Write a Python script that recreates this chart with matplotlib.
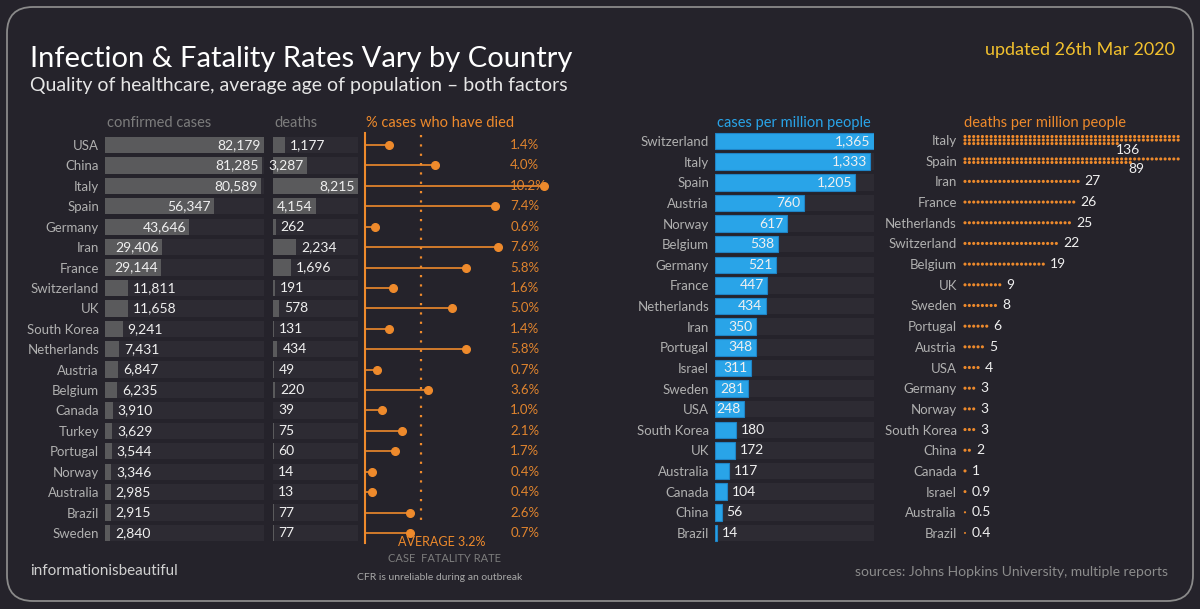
import numpy as np
import matplotlib
matplotlib.use("Agg")
import matplotlib.pyplot as plt
from matplotlib.patches import FancyBboxPatch
from matplotlib import font_manager

# ---- data ----
countries = ["USA", "China", "Italy", "Spain", "Germany", "Iran", "France", "Switzerland", "UK",
             "South Korea", "Netherlands", "Austria", "Belgium", "Canada", "Turkey", "Portugal",
             "Norway", "Australia", "Brazil", "Sweden"]
cases = [82179, 81285, 80589, 56347, 43646, 29406, 29144, 11811, 11658, 9241, 7431, 6847, 6235,
         3910, 3629, 3544, 3346, 2985, 2915, 2840]
deaths = [1177, 3287, 8215, 4154, 262, 2234, 1696, 191, 578, 131, 434, 49, 220, 39, 75, 60, 14, 13, 77, 77]
cfr = [1.4, 4.0, 10.2, 7.4, 0.6, 7.6, 5.8, 1.6, 5.0, 1.4, 5.8, 0.7, 3.6, 1.0, 2.1, 1.7, 0.4, 0.4, 2.6, 2.6]
cfr_labels = ["1.4%", "4.0%", "10.2%", "7.4%", "0.6%", "7.6%", "5.8%", "1.6%", "5.0%", "1.4%", "5.8%",
              "0.7%", "3.6%", "1.0%", "2.1%", "1.7%", "0.4%", "0.4%", "2.6%", "0.7%"]
cfr_avg = 3.2

cpm_countries = ["Switzerland", "Italy", "Spain", "Austria", "Norway", "Belgium", "Germany", "France",
                 "Netherlands", "Iran", "Portugal", "Israel", "Sweden", "USA", "South Korea", "UK",
                 "Australia", "Canada", "China", "Brazil"]
cpm = [1365, 1333, 1205, 760, 617, 538, 521, 447, 434, 350, 348, 311, 281, 248, 180, 172, 117, 104, 56, 14]

dpm_countries = ["Italy", "Spain", "Iran", "France", "Netherlands", "Switzerland", "Belgium", "UK",
                 "Sweden", "Portugal", "Austria", "USA", "Germany", "Norway", "South Korea", "China",
                 "Canada", "Israel", "Australia", "Brazil"]
dpm = [136, 89, 27, 26, 25, 22, 19, 9, 8, 6, 5, 4, 3, 3, 3, 2, 1, 0.9, 0.5, 0.4]

# ---- style ----
W, H = 1200, 609
bg = "#25232b"
track = "#2d2b33"
grey_bar = "#5a5a5c"
blue = "#29a4e8"
orange = "#ee8a2c"
label_col = "#b0b0b0"
head_col = "#7c7c7c"
value_col = "#f0f0f0"

names = {f.name for f in font_manager.fontManager.ttflist}
main_font = "Lato" if "Lato" in names else "DejaVu Sans"
num_font = "Liberation Sans Narrow" if "Liberation Sans Narrow" in names else main_font
plt.rcParams["font.family"] = [main_font, "DejaVu Sans"]

fig = plt.figure(figsize=(12, 6.09), dpi=100, facecolor=bg)

# background axes in pixel coordinates (y down)
bgax = fig.add_axes([0, 0, 1, 1])
bgax.set_xlim(0, W)
bgax.set_ylim(H, 0)
bgax.axis("off")
bgax.add_patch(FancyBboxPatch((7, 7), 1186, 594, boxstyle="round,pad=0,rounding_size=26",
                              fc=bg, ec="#8a8a8a", lw=1.3))


def px_axes(left, top, right, bottom):
    ax = fig.add_axes([left / W, 1 - bottom / H, (right - left) / W, (bottom - top) / H])
    ax.set_facecolor("none")
    for s in ax.spines.values():
        s.set_visible(False)
    ax.set_xticks([])
    ax.set_yticks([])
    return ax


def bar_panel(box, labels, values, color, inside_min, edge="none"):
    ax = px_axes(*box)
    n = len(values)
    y = np.arange(n)
    vmax = max(values)
    ax.barh(y, [vmax] * n, height=0.8, color=track)
    ax.barh(y, values, height=0.8, color=color, edgecolor=edge, linewidth=0.8)
    ax.set_xlim(0, vmax)
    ax.set_ylim(n - 0.5, -0.5)
    if labels is not None:
        ax.set_yticks(y, labels)
        ax.tick_params(axis="y", length=0, pad=4.3, labelcolor=label_col, labelsize=9.5)
    for yi, v in zip(y, values):
        if v >= inside_min:
            ax.annotate(f"{v:,}", (v, yi), xytext=(-2.5, 0), textcoords="offset points",
                        ha="right", va="center", color=value_col, fontsize=10, family=num_font)
        else:
            ax.annotate(f"{v:,}", (v, yi), xytext=(3.5, 0), textcoords="offset points",
                        ha="left", va="center", color=value_col, fontsize=10, family=num_font)
    return ax


# confirmed cases and deaths
bar_panel((105, 134.8, 264, 543.2), countries, cases, grey_bar, 20000)
bar_panel((273, 134.8, 358, 543.2), None, deaths, grey_bar, 3000)

# case fatality rate lollipops
ax = px_axes(365, 134.8, 565, 543.2)
y = np.arange(len(cfr))
ax.set_xlim(0, 200 / 17.5)
ax.set_ylim(len(cfr) - 0.5, -0.5)
ax.hlines(y, 0, cfr, color=orange, lw=1.2)
ax.plot(cfr, y, "o", ms=5.5, color=orange, clip_on=False, zorder=5)
ax.plot([0, 0], [-0.6, 19.5], color=orange, lw=1.5, clip_on=False)
ax.plot([cfr_avg, cfr_avg], [-0.5, 18.7], color=orange, lw=1.6, ls=(0, (1, 3.2)))
for yi, lab in zip(y, cfr_labels):
    ax.text(8.3, yi, lab, ha="left", va="center", color="#e0842e", fontsize=9.5, family=num_font)

# cases per million
bar_panel((715, 130.7, 874, 543.3), cpm_countries, cpm, blue, 200, edge="#1f84c6")

# deaths per million, one dot per death
per_row = 50
ax = px_axes(960, 129.7, 1195, 543.3)
ax.set_xlim(-5 / 4.35, -5 / 4.35 + 235 / 4.35)
ax.set_ylim(len(dpm) - 0.5, -0.5)
ax.set_yticks(np.arange(len(dpm)), dpm_countries)
ax.tick_params(axis="y", length=0, pad=2.2, labelcolor=label_col, labelsize=9.5)
xs, ys, ss = [], [], []
for i, v in enumerate(dpm):
    full = int(v)
    frac = v - full
    rows = max(1, int(np.ceil(full / per_row)))
    for k in range(full):
        r, c = divmod(k, per_row)
        xs.append(c)
        ys.append(i + (r - (rows - 1) / 2) * 0.17)
        ss.append(5)
    if frac > 0:
        xs.append(full % per_row)
        ys.append(i)
        ss.append(5 * frac)
    txt = f"{v:g}"
    last_c = (full - 1) % per_row if full > 0 else 0
    if rows > 1:
        ax.text(last_c - 0.4, i + (rows - 1) / 2 * 0.17 + 0.3, txt, ha="left", va="center",
                color=value_col, fontsize=10, family=num_font)
    else:
        ax.text(last_c + 1.5, i, txt, ha="left", va="center",
                color=value_col, fontsize=10, family=num_font)
ax.scatter(xs, ys, s=ss, color=orange, linewidths=0, clip_on=False)

# ---- texts ----
bgax.text(30, 59, "Infection & Fatality Rates Vary by Country", color="white", fontsize=21,
          ha="left", va="center")
bgax.text(30, 86, "Quality of healthcare, average age of population \u2013 both factors", color="#e6e6e6",
          fontsize=14, ha="left", va="center")
bgax.text(1175, 50, "updated 26th Mar 2020", color="#f2c12e", fontsize=13, ha="right", va="center")

bgax.text(107, 123, "confirmed cases", color=head_col, fontsize=10.5, ha="left", va="center")
bgax.text(274, 123, "deaths", color=head_col, fontsize=10.5, ha="left", va="center")
bgax.text(366, 123, "% cases who have died", color=orange, fontsize=10.5, ha="left", va="center")
bgax.text(717, 123, "cases per million people", color=blue, fontsize=10.5, ha="left", va="center")
bgax.text(964, 123, "deaths per million people", color=orange, fontsize=10.5, ha="left", va="center")

bgax.text(442, 542, "AVERAGE 3.2%", color=orange, fontsize=9, ha="center", va="center", family=num_font)
bgax.text(444, 559, "CASE  FATALITY RATE", color=head_col, fontsize=8, ha="center", va="center",
          family=num_font)
bgax.text(440, 577, "CFR is unreliable during an outbreak", color="#a8a8a8", fontsize=7.5,
          ha="center", va="center")

bgax.text(30, 571, "informationisbeautiful", color="#d0d0d0", fontsize=11, ha="left", va="center")
bgax.text(1168, 572, "sources: Johns Hopkins University, multiple reports", color="#8c8c8c",
          fontsize=10, ha="right", va="center")

fig.savefig("out.png", dpi=100, facecolor=bg)
